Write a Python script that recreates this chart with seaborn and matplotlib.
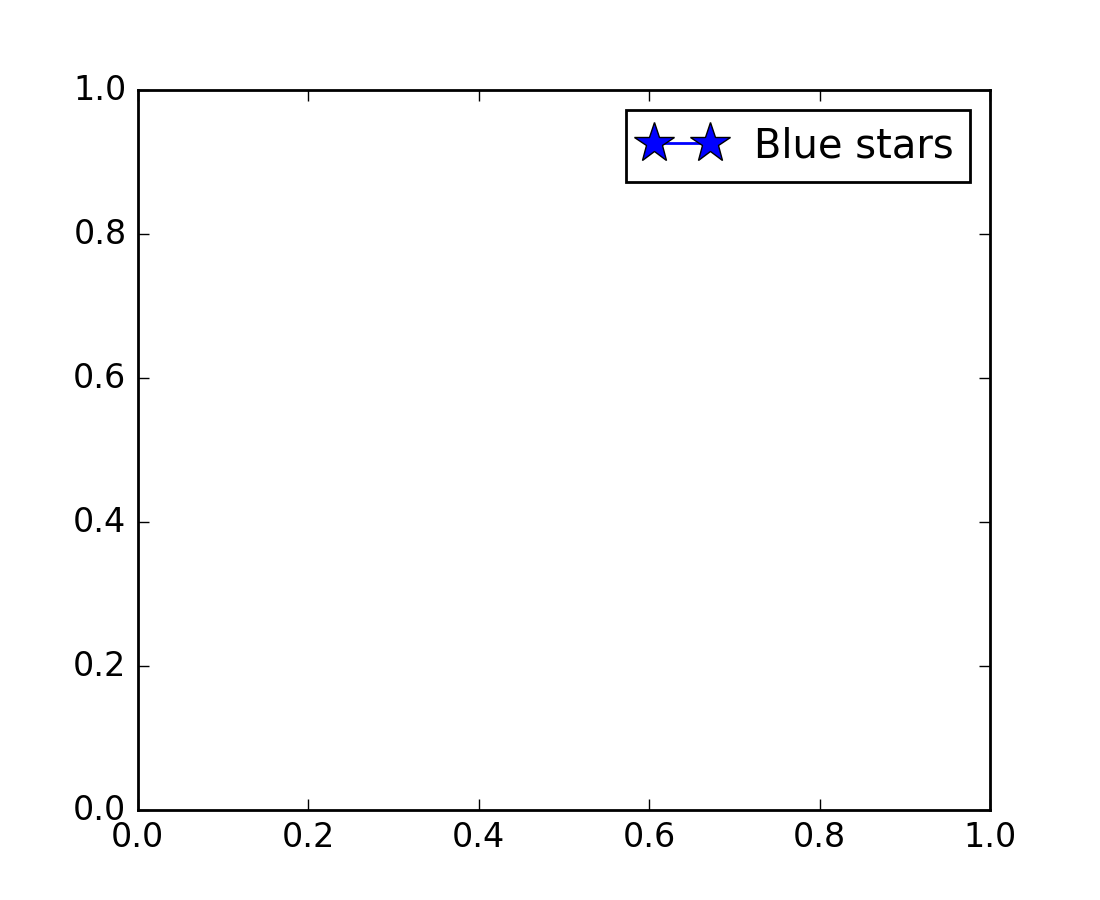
import matplotlib
matplotlib.use("Agg")
import matplotlib.pyplot as plt
import seaborn as sns
import pandas as pd

# the reference draws an empty series, only its legend entry shows
x_vals = []
y_vals = []
series_label = "Blue stars"

plt.style.use("classic")
plt.rcParams["font.family"] = ["DejaVu Sans"]

fig, ax = plt.subplots(figsize=(5.5, 4.5), dpi=200)
data = pd.DataFrame({"x": pd.Series(x_vals, dtype=float), "y": pd.Series(y_vals, dtype=float)})
sns.lineplot(data=data, x="x", y="y", ax=ax)

line, = ax.plot(data["x"], data["y"], "*-", color="#0000ff", markersize=15, label=series_label)
ax.set_xlim(0, 1)
ax.set_ylim(0, 1)
ax.set_xlabel("")
ax.set_ylabel("")
ax.legend(handles=[line], numpoints=2, loc="upper right")

fig.savefig("out.png", dpi=200)
